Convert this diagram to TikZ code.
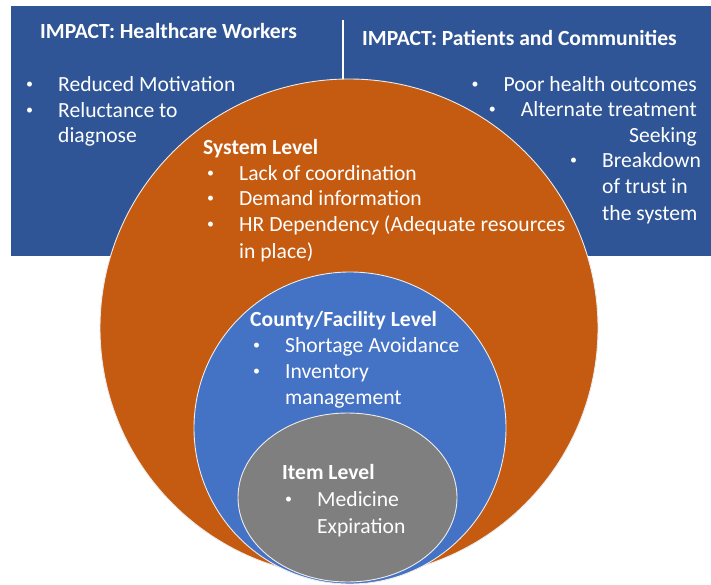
\documentclass[tikz,border=0pt]{standalone}
\usepackage{fontspec}
\setmainfont{Carlito}
\usetikzlibrary{shapes.geometric}
\definecolor{boxblue}{HTML}{2F5597}
\definecolor{sysorange}{HTML}{C55A11}
\definecolor{cntblue}{HTML}{4472C4}
\definecolor{itemgray}{HTML}{7F7F7F}
\newcommand\mybl{\llap{\makebox[32pt][l]{\raisebox{3pt}{\fontsize{14}{14}\selectfont •}}}}
\begin{document}
\begin{tikzpicture}[x=1pt,y=-1pt,
  txt/.style={text=white, font=\fontsize{21.6}{26}\selectfont, inner sep=0pt, anchor=base west},
  ttl/.style={txt, font=\fontsize{21.6}{26}\selectfont\bfseries},
  ring/.style={draw=white!85!gray, line width=0.9pt, inner sep=0pt}]
\useasboundingbox (0,0) rectangle (711,585);
% impact box
\node[fill=boxblue, inner sep=0pt, minimum width=700pt, minimum height=250pt, anchor=north west] (impact) at (11,6) {};
% circles
\node[ring, circle, fill=sysorange, minimum size=498pt] (sys) at (349,328) {};
\coordinate (divtop) at (343,20);
\draw[white, line width=1.8pt] (divtop) -- (divtop |- sys.north);
\node[ring, circle, fill=cntblue, minimum size=312pt] (cnt) at (350,428) {};
\node[ring, ellipse, fill=itemgray, minimum width=219pt, minimum height=169pt] (item) at (347.5,497.5) {};
% left impact text
\node[ttl] (t1) at (40,39) {IMPACT: Healthcare Workers};
\node[txt] (l1) at (58,92) {\mybl Reduced Motivation};
\node[txt] (l2) at (58,118) {\mybl Reluctance to};
\node[txt] (l3) at (58,143) {diagnose};
% right impact text
\node[ttl] (t2) at (362,46) {IMPACT: Patients and Communities};
\node[txt, anchor=base east] (r1) at (697,92) {\mybl Poor health outcomes};
\node[txt, anchor=base east] (r2) at (697,117) {\mybl Alternate treatment};
\node[txt, anchor=base east] (r3) at (697,143) {Seeking};
\node[txt] (r4) at (602,168) {\mybl Breakdown};
\node[txt] (r5) at (602,194) {of trust in};
\node[txt] (r6) at (602,220) {the system};
% system level
\node[ttl] (s0) at (203,155) {System Level};
\node[txt] (s1) at (239,181) {\mybl Lack of coordination};
\node[txt] (s2) at (239,206) {\mybl Demand information};
\node[txt] (s3) at (239,232) {\mybl HR Dependency (Adequate resources};
\node[txt] (s4) at (239,258) {in place)};
% county level
\node[ttl] (c0) at (250,326) {County/Facility Level};
\node[txt] (c1) at (285,352) {\mybl Shortage Avoidance};
\node[txt] (c2) at (285,378) {\mybl Inventory};
\node[txt] (c3) at (285,404) {management};
% item level
\node[ttl] (i0) at (282,479) {Item Level};
\node[txt] (i1) at (317,506) {\mybl Medicine};
\node[txt] (i2) at (317,533) {Expiration};
\end{tikzpicture}
\end{document}
